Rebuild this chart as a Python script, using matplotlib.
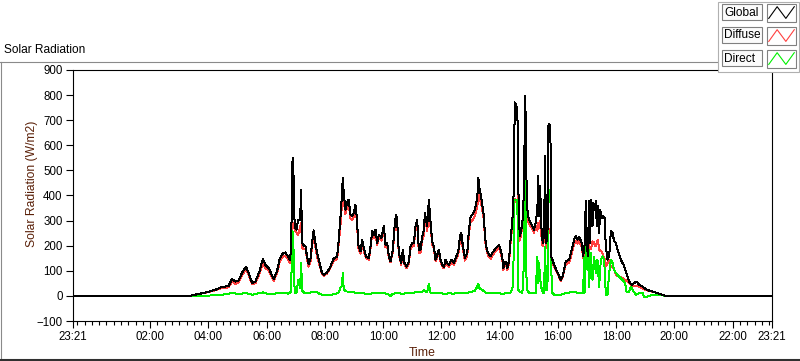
import matplotlib
matplotlib.use('Agg')
import matplotlib.pyplot as plt
from matplotlib.lines import Line2D
from matplotlib.patches import Rectangle
from matplotlib.ticker import MultipleLocator

plt.rcParams['font.family'] = ['Liberation Sans', 'DejaVu Sans']

# ---------------- data (hour of day; day window 23:21 -> 23:21) ----------------
hours = [
    -0.65, 3.37, 3.55, 3.89, 4.23, 4.46, 4.69, 4.81, 4.92, 5.03,
    5.15, 5.29, 5.38, 5.50, 5.61, 5.75, 5.87, 5.95, 6.07, 6.24,
    6.36, 6.44, 6.56, 6.64, 6.73, 6.79, 6.84, 6.87, 6.89, 6.93,
    6.96, 7.02, 7.08, 7.15, 7.18, 7.22, 7.29, 7.33, 7.385, 7.44,
    7.50, 7.557, 7.615, 7.672, 7.73, 7.786, 7.844, 7.90, 7.958, 8.073,
    8.188, 8.302, 8.417, 8.474, 8.532, 8.589, 8.612, 8.646, 8.704, 8.761,
    8.818, 8.876, 8.933, 8.99, 9.047, 9.105, 9.139, 9.219, 9.277, 9.334,
    9.414, 9.506, 9.563, 9.621, 9.678, 9.735, 9.793, 9.85, 9.942, 10.022,
    10.079, 10.136, 10.194, 10.251, 10.331, 10.40, 10.446, 10.48, 10.538, 10.618,
    10.675, 10.732, 10.80, 10.881, 10.939, 10.996, 11.053, 11.11, 11.168, 11.225,
    11.282, 11.34, 11.397, 11.432, 11.455, 11.512, 11.569, 11.627, 11.684, 11.741,
    11.799, 11.856, 11.913, 11.97, 12.028, 12.085, 12.142, 12.2, 12.257, 12.349,
    12.429, 12.509, 12.566, 12.601, 12.635, 12.681, 12.738, 12.807, 12.887, 12.945,
    13.002, 13.059, 13.151, 13.197, 13.243, 13.266, 13.311, 13.369, 13.426, 13.46,
    13.495, 13.541, 13.598, 13.69, 13.747, 13.827, 13.919, 13.976, 14.034, 14.091,
    14.125, 14.206, 14.263, 14.32, 14.377, 14.435, 14.47, 14.492, 14.515, 14.573,
    14.607, 14.641, 14.687, 14.721, 14.779, 14.836, 14.87, 14.905, 14.928, 14.974,
    15.031, 15.123, 15.18, 15.237, 15.295, 15.317, 15.352, 15.386, 15.421, 15.444,
    15.49, 15.524, 15.558, 15.593, 15.639, 15.673, 15.696, 15.742, 15.764, 15.811,
    15.868, 15.982, 16.097, 16.154, 16.211, 16.269, 16.383, 16.475, 16.555, 16.613,
    16.67, 16.727, 16.819, 16.865, 16.911, 16.957, 16.991, 17.025, 17.071, 17.105,
    17.14, 17.186, 17.22, 17.255, 17.301, 17.335, 17.37, 17.415, 17.45, 17.507,
    17.553, 17.599, 17.645, 17.702, 17.76, 17.816, 17.874, 17.931, 17.988, 18.046,
    18.103, 18.16, 18.218, 18.24, 18.309, 18.39, 18.447, 18.539, 18.619, 18.699,
    18.79, 18.905, 19.02, 19.134, 19.249, 19.364, 19.478, 19.594, 19.708, 23.35,
]
global_wm2 = [
    0, 0, 5, 13, 24, 35, 40, 67, 57, 61,
    91, 117, 92, 52, 57, 97, 148, 124, 111, 67,
    101, 144, 171, 173, 157, 144, 184, 451, 551, 457,
    277, 264, 304, 304, 424, 212, 197, 200, 157, 128,
    144, 211, 261, 211, 171, 144, 117, 91, 84, 93,
    117, 149, 157, 224, 311, 411, 471, 411, 344, 371,
    384, 324, 317, 331, 364, 304, 204, 177, 224, 191,
    157, 151, 197, 257, 244, 264, 211, 244, 231, 277,
    204, 211, 157, 137, 184, 291, 324, 297, 171, 131,
    184, 131, 117, 137, 197, 211, 211, 277, 304, 184,
    184, 237, 264, 330, 317, 277, 384, 291, 217, 197,
    144, 164, 184, 144, 124, 117, 144, 131, 124, 144,
    131, 157, 171, 197, 237, 251, 197, 151, 171, 264,
    317, 324, 344, 371, 411, 471, 424, 391, 344, 317,
    237, 197, 171, 157, 171, 184, 197, 204, 184, 151,
    111, 137, 110, 140, 230, 300, 384, 437, 771, 757,
    744, 424, 237, 251, 291, 424, 797, 664, 371, 317,
    297, 277, 264, 291, 344, 477, 317, 437, 331, 237,
    211, 251, 557, 211, 224, 677, 684, 677, 157, 144,
    124, 94, 64, 77, 104, 137, 144, 184, 224, 240,
    224, 235, 211, 157, 197, 377, 224, 157, 377, 211,
    384, 277, 371, 344, 377, 277, 357, 251, 344, 311,
    317, 311, 197, 144, 157, 257, 251, 217, 211, 184,
    164, 144, 131, 131, 104, 77, 57, 44, 51, 57,
    44, 37, 27, 21, 17, 13, 8, 4, 0, 0,
]
diffuse_wm2 = [
    0, 0, 5, 12, 22, 31, 34, 57, 47, 54,
    82, 107, 84, 46, 50, 87, 132, 112, 101, 60,
    91, 132, 159, 160, 146, 132, 166, 252, 288, 290,
    264, 254, 242, 274, 292, 192, 185, 187, 146, 117,
    132, 196, 244, 195, 156, 134, 111, 87, 80, 89,
    112, 141, 146, 210, 281, 370, 378, 384, 326, 352,
    367, 308, 301, 316, 349, 291, 194, 168, 213, 181,
    149, 144, 188, 245, 232, 251, 201, 232, 220, 264,
    195, 201, 152, 135, 176, 278, 310, 285, 163, 124,
    175, 124, 111, 129, 186, 198, 198, 262, 287, 172,
    172, 220, 242, 300, 297, 258, 336, 275, 206, 187,
    137, 154, 172, 136, 117, 110, 133, 122, 117, 134,
    123, 146, 159, 183, 222, 234, 185, 141, 160, 248,
    297, 301, 318, 340, 368, 423, 388, 367, 325, 300,
    224, 186, 162, 148, 160, 173, 185, 191, 173, 142,
    103, 128, 103, 130, 216, 282, 320, 384, 387, 373,
    370, 400, 220, 236, 279, 300, 293, 320, 330, 295,
    284, 265, 252, 278, 260, 290, 270, 300, 280, 210,
    198, 237, 360, 190, 205, 253, 260, 266, 140, 133,
    118, 90, 60, 73, 97, 126, 131, 168, 205, 220,
    208, 218, 197, 150, 180, 190, 200, 150, 204, 185,
    190, 217, 215, 205, 197, 215, 224, 184, 180, 175,
    160, 150, 117, 131, 144, 117, 117, 104, 84, 80,
    77, 74, 71, 68, 64, 57, 51, 42, 40, 38,
    37, 30, 24, 20, 17, 13, 8, 4, 0, 0,
]
direct_hours = [
    -0.65, 3.37, 3.89, 4.23, 4.46, 4.69, 4.81, 4.92, 5.03, 5.15,
    5.29, 5.38, 5.50, 5.61, 5.75, 5.87, 5.95, 6.07, 6.24, 6.36,
    6.44, 6.56, 6.64, 6.73, 6.79, 6.84, 6.87, 6.89, 6.93, 6.96,
    7.02, 7.08, 7.15, 7.18, 7.22, 7.29, 7.385, 7.50, 7.615, 7.73,
    7.844, 7.958, 8.073, 8.188, 8.302, 8.417, 8.474, 8.532, 8.589, 8.612,
    8.646, 8.704, 8.818, 8.933, 9.047, 9.139, 9.277, 9.414, 9.563, 9.678,
    9.85, 10.022, 10.136, 10.251, 10.331, 10.446, 10.618, 10.80, 10.996, 11.168,
    11.34, 11.397, 11.455, 11.512, 11.569, 11.627, 11.741, 11.913, 12.085, 12.257,
    12.429, 12.601, 12.738, 12.945, 13.151, 13.243, 13.266, 13.311, 13.426, 13.541,
    13.747, 13.976, 14.125, 14.263, 14.377, 14.435, 14.47, 14.492, 14.573, 14.607,
    14.641, 14.687, 14.779, 14.836, 14.87, 14.905, 14.928, 15.031, 15.237, 15.295,
    15.317, 15.352, 15.386, 15.421, 15.49, 15.524, 15.558, 15.593, 15.639, 15.673,
    15.742, 15.764, 15.811, 15.868, 16.097, 16.269, 16.555, 16.67, 16.865, 16.899,
    16.911, 16.98, 17.014, 17.048, 17.071, 17.128, 17.186, 17.243, 17.301, 17.358,
    17.415, 17.473, 17.53, 17.587, 17.645, 17.702, 17.76, 17.816, 17.874, 17.931,
    17.988, 18.103, 18.218, 18.309, 18.355, 18.447, 18.504, 18.562, 18.676, 18.79,
    18.905, 18.962, 19.02, 19.134, 19.249, 19.478, 19.708, 23.35,
]
direct_wm2 = [
    0, 0, 1, 2, 5, 8, 12, 10, 6, 9,
    12, 8, 5, 7, 12, 14, 10, 9, 7, 11,
    10, 12, 13, 9, 11, 20, 199, 257, 165, 13,
    10, 62, 30, 131, 20, 12, 13, 13, 17, 15,
    6, 4, 4, 5, 6, 11, 14, 32, 41, 93,
    27, 18, 17, 16, 12, 10, 11, 8, 9, 12,
    10, 11, 8, 0, 8, 12, 9, 10, 13, 14,
    15, 24, 18, 14, 48, 11, 10, 13, 8, 10,
    9, 12, 10, 14, 20, 40, 48, 30, 22, 12,
    11, 10, 9, 11, 14, 27, 77, 384, 384, 374,
    24, 17, 11, 140, 504, 184, 24, 11, 11, 157,
    51, 131, 77, 37, 11, 14, 197, 24, 24, 424,
    411, 117, 11, 5, 4, 11, 17, 12, 11, 157,
    11, 197, 104, 197, 37, 171, 64, 157, 91, 144,
    37, 144, 157, 144, 4, 4, 91, 144, 131, 104,
    91, 77, 64, 51, 17, 17, 37, 24, 4, 11,
    13, -5, -5, 0, 4, 4, 0, 0,
]

series_names = ['Global', 'Diffuse', 'Direct']
series_colors = ['#000000', '#ff4040', '#00f000']

xtick_hours = [-0.65, 2, 4, 6, 8, 10, 12, 14, 16, 18, 20, 22, 23.35]
xtick_labels = ['23:21', '02:00', '04:00', '06:00', '08:00', '10:00', '12:00',
                '14:00', '16:00', '18:00', '20:00', '22:00', '23:21']
ytick_values = [-100, 0, 100, 200, 300, 400, 500, 600, 700, 800, 900]

# ---------------- figure ----------------
W, H = 800, 361
fig = plt.figure(figsize=(W / 100, H / 100), dpi=100)
fig.patch.set_facecolor('white')


def fx(px):
    return px / W


def fy(py):
    return 1 - py / H


ax = fig.add_axes([fx(73), fy(321), (772 - 73) / W, (321 - 70) / H])
ax.set_facecolor('white')

ax.plot(hours, diffuse_wm2, color=series_colors[1], lw=0.72, zorder=2, antialiased=False)
ax.plot(direct_hours, direct_wm2, color=series_colors[2], lw=0.72, zorder=3, antialiased=False)
ax.plot(hours, global_wm2, color=series_colors[0], lw=0.72, zorder=4, antialiased=False)

ax.set_xlim(xtick_hours[0], xtick_hours[-1])
ax.set_ylim(ytick_values[0], ytick_values[-1])
ax.set_xticks(xtick_hours)
ax.set_xticklabels(xtick_labels)
ax.set_yticks(ytick_values)
ax.xaxis.set_minor_locator(MultipleLocator(0.25))

ax.tick_params(axis='both', which='major', direction='out', length=5, width=0.8,
               labelsize=8.3, color='black', pad=2.5)
ax.tick_params(axis='x', which='minor', direction='out', length=3, width=0.8)
for sp in ax.spines.values():
    sp.set_linewidth(0.8)
    sp.set_color('black')

label_color = '#5a2008'
fig.text(fx(32), fy(184), 'Solar Radiation (W/m2)', rotation=90, ha='center', va='center',
         fontsize=8.7, color=label_color)
fig.text(fx(422), fy(353), 'Time', ha='center', va='center', fontsize=8.8, color=label_color)
fig.text(fx(4), fy(50), 'Solar Radiation', ha='left', va='center', fontsize=8.6, color='black')

# outer panel frame
frame_col = '#8a8a8a'
fig.add_artist(Line2D([fx(0), fx(718)], [fy(61.5), fy(61.5)], transform=fig.transFigure,
                      color=frame_col, lw=0.8))
fig.add_artist(Line2D([fx(0.6), fx(0.6)], [fy(61.5), fy(360)], transform=fig.transFigure,
                      color=frame_col, lw=0.8))
fig.add_artist(Line2D([fx(0), fx(800)], [fy(360), fy(360)], transform=fig.transFigure,
                      color='#303030', lw=1.5))

# legend panel
fig.add_artist(Rectangle((fx(718), fy(72)), (799 - 718) / W, (72 - 2) / H,
                         transform=fig.transFigure, facecolor='white',
                         edgecolor='#b0b0b0', lw=0.8, zorder=10))
for i, (name, col) in enumerate(zip(series_names, series_colors)):
    top = 4 + i * 23
    fig.add_artist(Rectangle((fx(722), fy(top + 16)), 40 / W, 16 / H,
                             transform=fig.transFigure, facecolor='#fbfbfb',
                             edgecolor='#808080', lw=0.8, zorder=11))
    fig.text(fx(724), fy(top + 8.5), name, ha='left', va='center', fontsize=8.6,
             color='black', zorder=12)
    bx0, bx1 = 767, 796
    by0, by1 = top + 18, top
    fig.add_artist(Rectangle((fx(bx0), fy(by0)), (bx1 - bx0) / W, (by0 - by1) / H,
                             transform=fig.transFigure, facecolor='white',
                             edgecolor='#808080', lw=0.8, zorder=11))
    zx = [0.06, 0.35, 0.65, 0.94]
    zy = [0.2, 0.85, 0.2, 0.85]
    fig.add_artist(Line2D([fx(bx0 + f * (bx1 - bx0)) for f in zx],
                          [fy(by0 - f * (by0 - by1)) for f in zy],
                          transform=fig.transFigure, color=col, lw=0.8, zorder=12))

fig.savefig('out.png', dpi=100, facecolor='white')
